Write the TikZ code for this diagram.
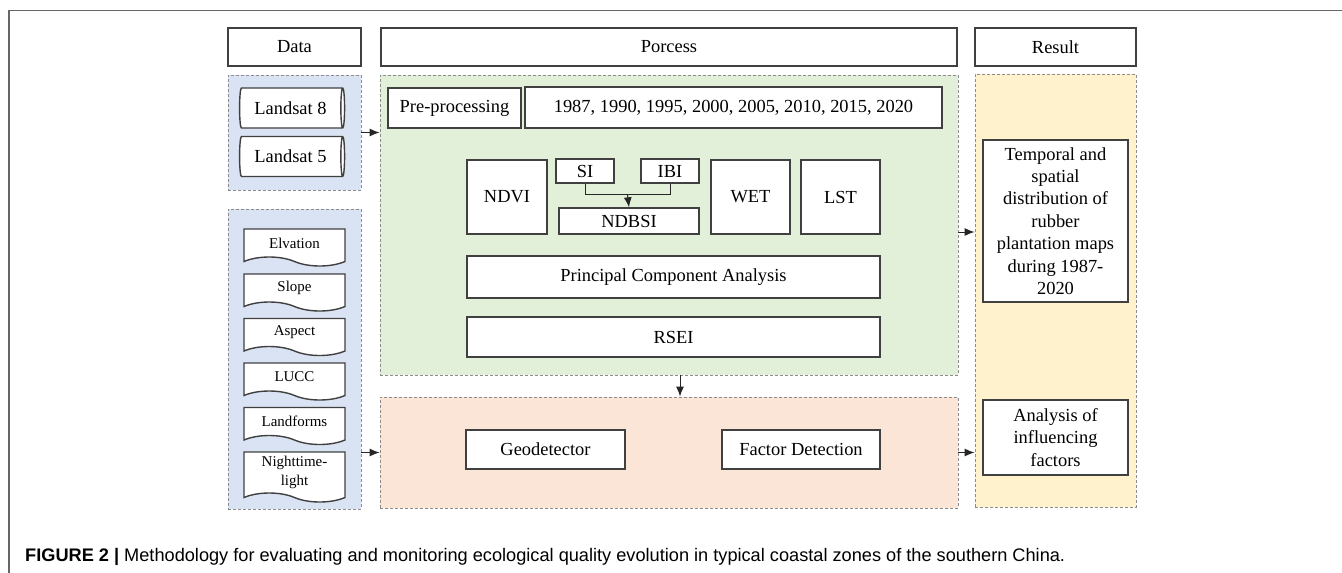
\documentclass[tikz,border=0pt]{standalone}
\usepackage{fontspec}
\setmainfont{Liberation Serif}
\newfontfamily\capfont{Liberation Sans}
\usepackage{tikz}
\usetikzlibrary{calc,arrows,arrows.meta,shapes,positioning}

\definecolor{regblue}{HTML}{DAE3F3}
\definecolor{reggreen}{HTML}{E2F0D9}
\definecolor{regorange}{HTML}{FBE5D6}
\definecolor{regyellow}{HTML}{FFF2CC}

\begin{document}
\begin{tikzpicture}[>={Latex[length=10bp,width=8bp]},
	region/.style={draw=black!45, dashed, dash pattern=on 3bp off 2bp, line width=0.9bp},
	box/.style={draw=black!75, line width=1.4bp, fill=white, inner sep=1bp, align=center, font=\fontsize{18.5}{22.5}\selectfont},
	sat/.style={box, cylinder, shape border rotate=0, shape aspect=0.25, minimum width=40bp, minimum height=105bp},
	aux/.style={box, tape, tape bend top=none, tape bend bottom=out and in, tape bend height=9bp, minimum width=101bp, minimum height=37bp, font=\fontsize{15}{19}\selectfont},
	link/.style={->, line width=1bp, draw=black!85}]
	\useasboundingbox (0bp,0bp) rectangle (1342bp,-573bp);
	\fill[white] (0bp,0bp) rectangle (1342bp,-573bp);
	\draw[black!60, line width=1.5bp] (1342bp,-10.5bp) -| (9bp,-573bp);

	\node[region, fill=regblue,   minimum width=133bp, minimum height=115bp] (rSat) at (294.5bp,-132.5bp) {};
	\node[region, fill=regblue,   minimum width=133bp, minimum height=300bp] (rAux) at (294.5bp,-359bp)   {};
	\node[region, fill=reggreen,  minimum width=578bp, minimum height=300bp] (rPre) at (669bp,-225bp)     {};
	\node[region, fill=regorange, minimum width=578bp, minimum height=111bp] (rGeo) at (669bp,-452.5bp)   {};
	\node[region, fill=regyellow, minimum width=161bp, minimum height=433bp] (rRes) at (1055.5bp,-290.5bp) {};

	\node[box, minimum width=133bp, minimum height=38bp] (Data) at (294.5bp,-47bp)  {Data};
	\node[box, minimum width=576bp, minimum height=38bp] (Proc) at (669bp,-47bp)    {Porcess};
	\node[box, minimum width=161bp, minimum height=38bp] (Res)  at (1055.5bp,-47bp) {Result};

	\node[sat] (L8) at (290.5bp,-108bp)   {Landsat 8};
	\node[sat] (L5) at (290.5bp,-156.5bp) {Landsat 5};

	\foreach \n/\t/\y in {Elev/Elvation/-243bp, Slope/Slope/-288bp, Asp/Aspect/-332.5bp, LUCC/LUCC/-377bp, Land/Landforms/-421.5bp}
		\node[aux] (\n) at (294.5bp,\y) {\t};
	\node[aux, minimum height=50bp] (Night) at (294.5bp,-472.5bp) {Nighttime-\\light};

	\node[box, minimum width=133bp, minimum height=40bp] (Pre)   at (454.5bp,-108bp)   {Pre-processing};
	\node[box, minimum width=417bp, minimum height=41bp] (Years) at (733.5bp,-107.5bp) {1987, 1990, 1995, 2000, 2005, 2010, 2015, 2020};
	\node[box, minimum width=80bp,  minimum height=74bp] (NDVI)  at (507bp,-197bp)     {NDVI};
	\node[box, minimum width=58bp,  minimum height=24bp] (SI)    at (585bp,-171bp)     {SI};
	\node[box, minimum width=58bp,  minimum height=24bp] (IBI)   at (670bp,-171bp)     {IBI};
	\node[box, minimum width=140bp, minimum height=26bp] (NDBSI) at (629bp,-221bp)     {NDBSI};
	\node[box, minimum width=79bp,  minimum height=74bp] (WET)   at (750.5bp,-197bp)   {WET};
	\node[box, minimum width=79bp,  minimum height=74bp] (LST)   at (840.5bp,-197bp)   {LST};
	\node[box, minimum width=413bp, minimum height=42bp] (PCA)   at (673.5bp,-277bp)   {Principal Component Analysis};
	\node[box, minimum width=413bp, minimum height=40bp] (RSEI)  at (673.5bp,-337bp)   {RSEI};
	\node[box, minimum width=159bp, minimum height=39bp] (Geo)   at (545.5bp,-449.5bp) {Geodetector};
	\node[box, minimum width=158bp, minimum height=39bp] (FD)    at (801bp,-449.5bp)   {Factor Detection};

	\node[box, minimum width=145bp, minimum height=162bp] (Temp) at (1055.5bp,-221bp)   {Temporal and\\spatial\\distribution of\\rubber\\plantation maps\\during 1987-\\2020};
	\node[box, minimum width=145bp, minimum height=75bp]  (Anal) at (1055.5bp,-437.5bp) {Analysis of\\influencing\\factors};

	\coordinate (mrg) at ($(SI.south)!.5!(IBI.south)+(0,-11bp)$);
	\draw[line width=1bp, draw=black!85] (SI.south) |- (mrg) -| (IBI.south);
	\draw[link] (mrg) -- (NDBSI.north);

	\draw[link] (rSat.east) -- (rSat.east -| rPre.west);
	\draw[link] (rAux.east |- rGeo.west) -- (rGeo.west);
	\draw[link] ([yshift=-7bp]rPre.east) -- ([yshift=-7bp]rPre.east -| rRes.west);
	\draw[link] (rGeo.east) -- (rGeo.east -| rRes.west);
	\draw[link] ([xshift=11bp]rPre.south) -- ([xshift=11bp]rGeo.north);

	\node[anchor=base west, inner sep=0pt, font=\capfont\fontsize{18.25}{22}\selectfont] (cap) at (25bp,-561bp) {\textbf{FIGURE 2 |} Methodology for evaluating and monitoring ecological quality evolution in typical coastal zones of the southern China.};
\end{tikzpicture}
\end{document}
